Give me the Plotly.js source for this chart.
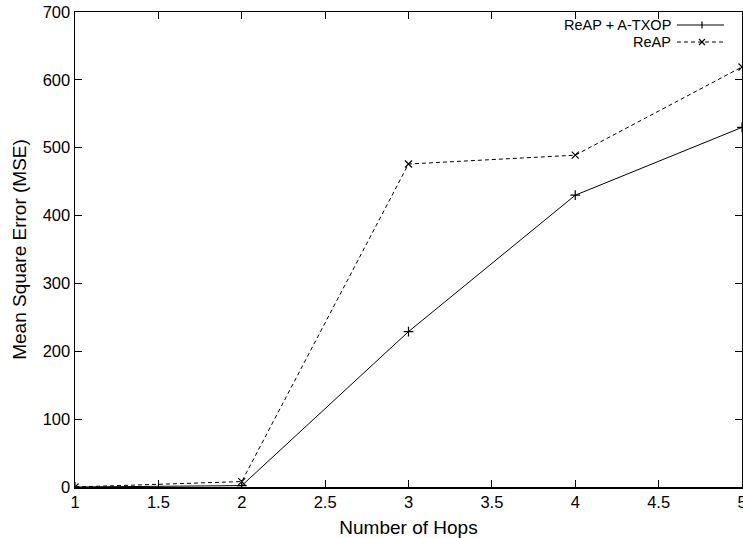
<!DOCTYPE html>
<html>
<head>
<meta charset="utf-8">
<script src="https://cdn.plot.ly/plotly-3.0.1.min.js"></script>
<style>html,body{margin:0;padding:0;background:#fff;}#chart{width:743px;height:538px;}</style>
</head>
<body>
<div id="chart"></div>
<script>
var hops = [1, 2, 3, 4, 5];
var reapTxop = [0, 2, 229, 430, 530];
var reap = [0, 8, 476, 489, 619];
var seriesNames = ["ReAP + A-TXOP", "ReAP"];
var xTicks = [1, 1.5, 2, 2.5, 3, 3.5, 4, 4.5, 5];
var yTicks = [0, 100, 200, 300, 400, 500, 600, 700];

var font = "Liberation Sans, Arial, Helvetica, sans-serif";

var traces = [
  {x: hops, y: reapTxop, name: seriesNames[0], mode: "lines+markers", type: "scatter",
   line: {color: "#000", width: 1, dash: "solid"},
   marker: {symbol: "cross-thin", size: 7, line: {color: "#000", width: 1.2}}},
  {x: hops, y: reap, name: seriesNames[1], mode: "lines+markers", type: "scatter",
   line: {color: "#000", width: 1, dash: "4px,3px"},
   marker: {symbol: "x-thin", size: 7, line: {color: "#000", width: 1.2}}}
];

var ax = {
  showgrid: false, zeroline: false, showline: true, linecolor: "#000", linewidth: 1.5,
  mirror: "ticks", ticks: "inside", ticklen: 7, tickwidth: 1, tickcolor: "#000",
  ticklabeloverflow: "allow",
  tickfont: {family: font, size: 16.5, color: "#000"}
};

var layout = {
  width: 743, height: 538,
  margin: {l: 75, r: 1, t: 12, b: 51},
  paper_bgcolor: "#fff", plot_bgcolor: "#fff",
  showlegend: false,
  font: {family: font, color: "#000"},
  xaxis: Object.assign({}, ax, {range: [1, 5], tickvals: xTicks, ticktext: xTicks.map(String),
    title: {text: "Number of Hops", font: {family: font, size: 19, color: "#000"}, standoff: 10}}),
  yaxis: Object.assign({}, ax, {range: [0, 700], tickvals: yTicks, ticktext: yTicks.map(String),
    title: {text: "Mean Square Error (MSE)", font: {family: font, size: 19, color: "#000"}, standoff: 11}}),
  annotations: [
    {xref: "paper", yref: "paper", x: 0.896, y: 0.9726, xanchor: "right", yanchor: "middle",
     text: seriesNames[0], showarrow: false, font: {family: font, size: 14.5, color: "#000"}},
    {xref: "paper", yref: "paper", x: 0.896, y: 0.9368, xanchor: "right", yanchor: "middle",
     text: seriesNames[1], showarrow: false, font: {family: font, size: 14.5, color: "#000"}}
  ],
  shapes: [
    {type: "line", xref: "paper", yref: "paper", x0: 0.9025, x1: 0.973, y0: 0.9726, y1: 0.9726,
     line: {color: "#000", width: 1}},
    {type: "line", xref: "paper", yref: "paper", x0: 0.940, x1: 0.940, y0: 0.9653, y1: 0.9799,
     line: {color: "#000", width: 1.2}},
    {type: "line", xref: "paper", yref: "paper", x0: 0.9025, x1: 0.973, y0: 0.9368, y1: 0.9368,
     line: {color: "#000", width: 1, dash: "4px,3px"}},
    {type: "path", xref: "paper", yref: "paper",
     path: "M0.9355,0.9305 L0.9445,0.9431 M0.9355,0.9431 L0.9445,0.9305",
     line: {color: "#000", width: 1.2}}
  ]
};

Plotly.newPlot("chart", traces, layout, {displayModeBar: false, staticPlot: true});
</script>
</body>
</html>
